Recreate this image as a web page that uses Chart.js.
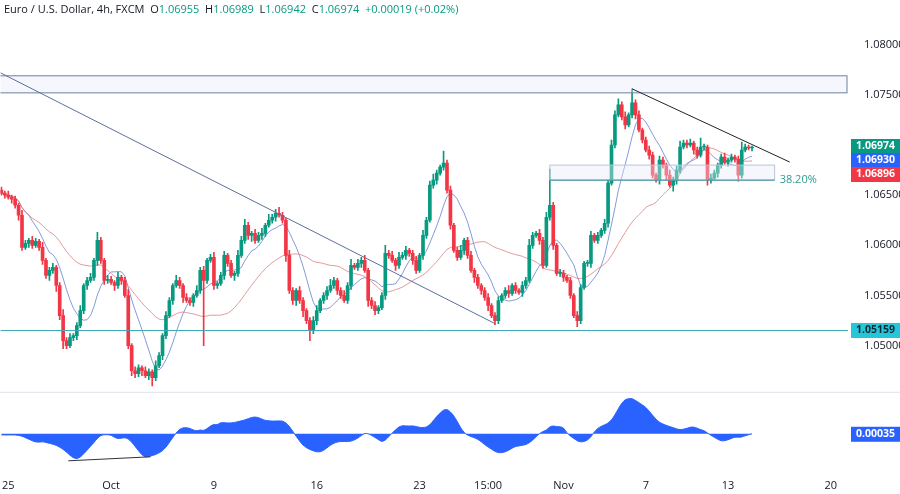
<!DOCTYPE html>
<html><head><meta charset="utf-8">
<script src="https://cdn.jsdelivr.net/npm/chart.js@4/dist/chart.umd.min.js"></script>
<style>
html,body{margin:0;padding:0;background:#fff;}
#wrap{position:relative;width:900px;height:494px;}
#hdr{position:absolute;left:4px;top:1px;font:11px "Open Sans",sans-serif;color:#131722;white-space:pre;z-index:2;}
#hdr span{color:#089981;}
</style></head><body>
<div id="wrap">
<div id="hdr">Euro / U.S. Dollar, 4h, FXCM  O<span>1.06955</span>  H<span>1.06989</span>  L<span>1.06942</span>  C<span>1.06974</span>  <span>+0.00019 (+0.02%)</span></div>
<canvas id="c" width="900" height="494"></canvas>
</div>
<script>
const firstOpen = 1.0655;
const closes = [
1.0652,1.0650,1.0648,1.0646,1.0640,1.0630,1.0598,1.0602,1.0605,1.0600,
1.0604,1.0598,1.0585,1.0570,1.0575,1.0578,1.0560,1.0530,1.0505,1.0500,
1.0508,1.0510,1.0520,1.0535,1.0560,1.0565,1.0568,1.0585,1.0605,1.0585,
1.0565,1.0566,1.0563,1.0560,1.0568,1.0565,1.0550,1.0500,1.0475,1.0472,
1.0478,1.0475,1.0470,1.0474,1.0468,1.0480,1.0490,1.0510,1.0530,1.0545,
1.0560,1.0565,1.0560,1.0548,1.0545,1.0543,1.0550,1.0555,1.0575,1.0565,
1.0585,1.0588,1.0560,1.0562,1.0570,1.0590,1.0582,1.0570,1.0572,1.0590,
1.0605,1.0620,1.0610,1.0612,1.0605,1.0610,1.0612,1.0620,1.0625,1.0628,
1.0632,1.0630,1.0625,1.0590,1.0555,1.0545,1.0555,1.0545,1.0535,1.0525,
1.0515,1.0525,1.0535,1.0545,1.0550,1.0555,1.0560,1.0565,1.0555,1.0550,
1.0545,1.0560,1.0580,1.0578,1.0582,1.0585,1.0575,1.0545,1.0540,1.0535,
1.0538,1.0550,1.0592,1.0590,1.0585,1.0580,1.0588,1.0590,1.0595,1.0592,
1.0585,1.0575,1.0590,1.0610,1.0625,1.0660,1.0665,1.0672,1.0678,1.0682,
1.0655,1.0620,1.0595,1.0588,1.0595,1.0605,1.0590,1.0575,1.0568,1.0560,
1.0555,1.0548,1.0540,1.0530,1.0525,1.0545,1.0550,1.0555,1.0552,1.0560,
1.0555,1.0553,1.0560,1.0565,1.0600,1.0610,1.0612,1.0605,1.0580,1.0628,
1.0640,1.0600,1.0572,1.0572,1.0568,1.0565,1.0550,1.0530,1.0525,1.0558,
1.0582,1.0582,1.0610,1.0605,1.0610,1.0615,1.0622,1.0662,1.0700,1.0730,
1.0740,1.0728,1.0720,1.0730,1.0742,1.0730,1.0715,1.0705,1.0695,1.0690,
1.0670,1.0665,1.0685,1.0680,1.0670,1.0660,1.0665,1.0675,1.0698,1.0702,
1.0700,1.0702,1.0695,1.0690,1.0698,1.0698,1.0665,1.0667,1.0672,1.0680,
1.0688,1.0683,1.0685,1.0688,1.0686,1.0670,1.0695,1.0698,1.0697,1.0697];
const upWickPips = [
3,2,4,2,3,2,5,3,2,4, 3,2,5,2,3,4,2,3,6,3, 4,2,3,5,2,3,4,2,8,3, 2,4,3,2,5,2,3,6,2,4,
3,2,4,3,2,5,3,2,4,3, 2,5,3,2,4,3,2,5,3,4, 2,3,5,2,3,4,2,3,2,5, 4,6,3,2,4,3,5,2,6,3,
4,6,3,2,5,3,2,4,3,2, 3,4,5,2,3,4,6,3,2,3, 5,3,6,2,4,3,5,2,3,4, 2,3,8,3,4,2,5,3,4,2,
3,4,2,5,3,4,6,3,2,12, 3,4,2,3,5,2,3,4,2,3, 2,3,4,2,3,4,2,3,5,2, 3,2,4,3,6,3,2,4,3,5,
36,3,2,4,3,2,3,2,4,3, 2,3,4,2,3,2,4,3,5,4, 6,3,5,2,14,3,4,2,3,4, 3,2,4,3,2,5,3,4,6,3,
3,4,2,3,9,3,2,4,3,2, 3,4,2,3,2,3,8,3,2,2];
const downWickPips = [
2,3,2,4,3,5,3,2,4,3, 2,3,4,3,5,3,6,4,8,3, 2,3,4,2,3,4,2,3,5,3, 4,3,2,5,3,4,2,3,5,4,
3,5,2,4,8,3,2,4,3,2, 4,2,3,5,2,3,4,2,3,65, 3,2,4,3,2,4,3,2,5,3, 2,3,4,6,3,2,4,3,2,3,
4,2,3,6,3,4,5,3,6,3, 10,3,4,2,3,4,2,3,4,3, 2,3,4,2,3,4,2,6,3,4, 3,2,4,3,2,5,3,2,4,3,
4,3,2,4,3,2,3,4,2,3, 3,4,2,3,2,4,3,2,5,3, 4,3,5,2,4,3,2,3,4,2, 3,2,4,3,2,3,2,4,3,2,
3,4,2,3,4,2,3,2,6,3, 2,3,4,2,3,2,3,4,2,3, 2,3,4,2,3,4,2,3,2,4, 3,2,4,3,5,2,6,4,3,2,
3,2,4,3,2,3,5,3,2,4, 3,2,4,2,3,6,3,2,2,3];
const tickIdx = [2,32,62,92,122,142,164,188,212,242];
const tickLabels = ['25','Oct','9','16','23','15:00','Nov','7','13','20'];
const priceTicks = [1.05,1.055,1.06,1.065,1.07,1.075,1.08];
const resistanceZone = [1.0752,1.0769];
const supportLevel = 1.05159;
const fibZone = [1.0665,1.0680];
const lastLabels = [['1.06974','#089981'],['1.06930','#2962ff'],['1.06896','#f23645']];

const UP='#089981', DN='#f23645';
const opens = closes.map((c,i)=> i===0?firstOpen:closes[i-1]);
const highs = closes.map((c,i)=> Math.max(opens[i],c)+upWickPips[i]*0.0001);
const lows = closes.map((c,i)=> Math.min(opens[i],c)-downWickPips[i]*0.0001);
const col = closes.map((c,i)=> c>=opens[i]?UP:DN);
function sma(n){return closes.map((c,i)=>{const s=closes.slice(Math.max(0,i-n+1),i+1);return s.reduce((a,b)=>a+b,0)/s.length;});}
const fast = sma(9), slow = sma(30);
const mid = closes.map((c,i)=>(highs[i]+lows[i])/2);
function smaArr(a,n){return a.map((v,i)=>{const s=a.slice(Math.max(0,i-n+1),i+1);return s.reduce((x,y)=>x+y,0)/s.length;});}
const s5=smaArr(mid,5), s34=smaArr(mid,34);
const osc = mid.map((v,i)=>s5[i]-s34[i]);

const overlay = {
  id:'overlay',
  afterDatasetsDraw(ch){
    const {ctx,chartArea:a,scales:{x,y,yo}} = ch;
    ctx.save();
    ctx.beginPath(); ctx.rect(a.left,a.top,a.width,a.height); ctx.clip();
    let y1=y.getPixelForValue(resistanceZone[1]), y2=y.getPixelForValue(resistanceZone[0]);
    ctx.fillStyle='rgba(225,232,245,0.35)'; ctx.strokeStyle='#6d7fa6'; ctx.lineWidth=1;
    ctx.fillRect(a.left,y1,a.right-a.left-1,y2-y1); ctx.strokeRect(a.left-2,y1,a.right-a.left+1,y2-y1);
    ctx.strokeStyle='#5b6f9e'; ctx.beginPath();
    ctx.moveTo(x.getPixelForValue(-0.3),y.getPixelForValue(1.0772));
    ctx.lineTo(x.getPixelForValue(144),y.getPixelForValue(1.0522)); ctx.stroke();
    ctx.strokeStyle='#3fa9b5'; ctx.beginPath();
    const sy=Math.round(y.getPixelForValue(supportLevel))+0.5;
    ctx.moveTo(a.left,sy); ctx.lineTo(a.right,sy); ctx.stroke();
    const fx1=x.getPixelForValue(160), fx2=x.getPixelForValue(225.6);
    const fy1=y.getPixelForValue(fibZone[1]), fy2=y.getPixelForValue(fibZone[0]);
    ctx.fillStyle='rgba(230,236,248,0.4)'; ctx.fillRect(fx1,fy1,fx2-fx1,fy2-fy1);
    ctx.strokeStyle='#b8c4dc'; ctx.strokeRect(fx1,fy1,fx2-fx1,fy2-fy1);
    ctx.strokeStyle='#2f8f94'; ctx.beginPath(); ctx.moveTo(fx1,fy2); ctx.lineTo(fx2,fy2); ctx.stroke();
    ctx.fillStyle='#2f9a93'; ctx.font='11px "Open Sans",sans-serif'; ctx.textBaseline='middle';
    ctx.fillText('38.20%',fx2+5,fy2);
    ctx.strokeStyle='#222'; ctx.beginPath();
    ctx.moveTo(x.getPixelForValue(184),y.getPixelForValue(1.0756));
    ctx.lineTo(x.getPixelForValue(230),y.getPixelForValue(1.0683)); ctx.stroke();
    ctx.strokeStyle='#333'; ctx.beginPath();
    ctx.moveTo(x.getPixelForValue(19.5),yo.bottom-8);
    ctx.lineTo(x.getPixelForValue(43.5),yo.bottom-12); ctx.stroke();
    ctx.restore();
    ctx.save();
    ctx.strokeStyle='#e0e3eb'; ctx.beginPath();
    ctx.moveTo(0,y.bottom+0.5); ctx.lineTo(900,y.bottom+0.5); ctx.stroke();
    ctx.restore();
  },
  afterDraw(ch){
    const {ctx,scales:{y,yo}} = ch;
    ctx.save(); ctx.font='bold 10.5px "Open Sans",sans-serif'; ctx.textBaseline='middle';
    const box=(txt,py,bg,fg)=>{ctx.fillStyle=bg;ctx.fillRect(851,py-7,49,15);ctx.fillStyle=fg;ctx.fillText(txt,856,py+0.5);};
    lastLabels.forEach((l,k)=>box(l[0],146+k*14,l[1],'#fff'));
    box('1.05159',Math.round(y.getPixelForValue(supportLevel)),'#26c6da','#0e2a30');
    box('0.00035',yo.getPixelForValue(osc[osc.length-1]),'#2962ff','#fff');
    ctx.restore();
  }
};

const n=closes.length;
new Chart(document.getElementById('c'),{
  data:{datasets:[
    {type:'line',data:slow.map((v,i)=>({x:i,y:v})),borderColor:'rgba(220,130,130,0.8)',borderWidth:1,pointRadius:0,yAxisID:'y',order:3},
    {type:'line',data:fast.map((v,i)=>({x:i,y:v})),borderColor:'rgba(100,130,210,0.8)',borderWidth:1,pointRadius:0,yAxisID:'y',order:3},
    {type:'bar',data:closes.map((c,i)=>({x:i,y:[lows[i],highs[i]]})),backgroundColor:col,barThickness:1,grouped:false,yAxisID:'y',order:2},
    {type:'bar',data:closes.map((c,i)=>({x:i,y:[opens[i],c]})),backgroundColor:col,barThickness:3,minBarLength:1,grouped:false,yAxisID:'y',order:1},
    {type:'line',data:osc.map((v,i)=>({x:i,y:v})),borderColor:'#2962ff',backgroundColor:'#2962ff',borderWidth:1,pointRadius:0,fill:{value:osc[n-1]},yAxisID:'yo',tension:0.3}
  ]},
  options:{
    animation:false,responsive:false,
    layout:{padding:{top:-14,left:0,right:0,bottom:0}},
    plugins:{legend:{display:false},tooltip:{enabled:false}},
    scales:{
      x:{type:'linear',offset:false,min:-0.3,max:247,grid:{display:false},border:{display:false},
        afterBuildTicks(s){s.ticks=tickIdx.map(v=>({value:v}));},
        ticks:{autoSkip:false,maxRotation:0,color:'#131722',padding:2,font:{family:'Open Sans',size:11},
          callback:(v)=>tickLabels[tickIdx.indexOf(v)]}},
      y:{position:'right',stack:'v',stackWeight:4.9,min:1.0454,max:1.0830,grid:{display:false},border:{display:false},
        afterBuildTicks(s){s.ticks=priceTicks.map(v=>({value:v}));},
        afterFit(s){s.width=52;},
        ticks:{color:'#131722',padding:8,font:{family:'Open Sans',size:11},callback:v=>v.toFixed(5)}},
      yo:{position:'right',stack:'v',stackWeight:1,min:-0.011,max:0.014,grid:{display:false},border:{display:false},
        afterFit(s){s.width=52;},ticks:{display:false}}
    }
  },
  plugins:[overlay]
});
</script></body></html>
